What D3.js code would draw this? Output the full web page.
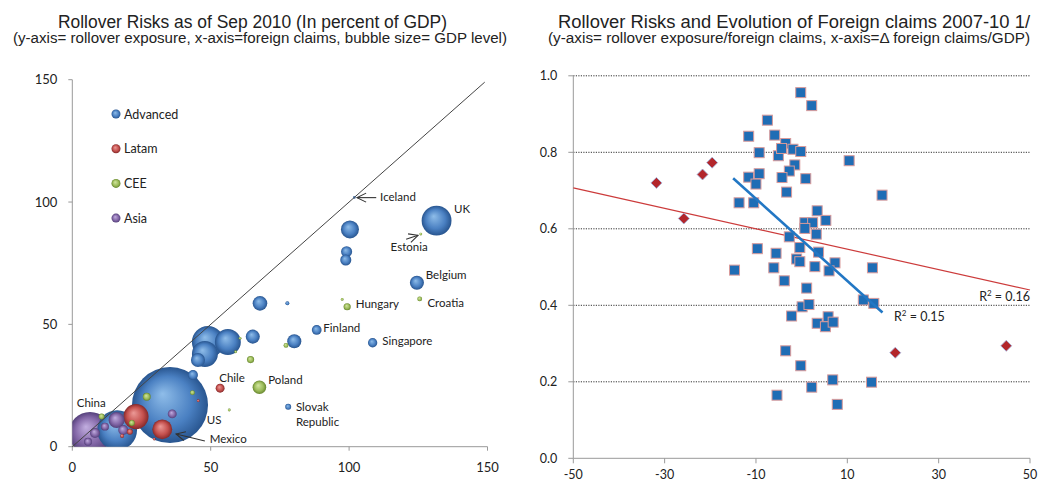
<!DOCTYPE html>
<html>
<head>
<meta charset="utf-8">
<script src="https://cdn.jsdelivr.net/npm/d3@7"></script>
<style>
  body { margin: 0; background: #fff; }
  text { font-family: Lato, "Open Sans", sans-serif; fill: #222; }
  .title { font-family: "Liberation Sans", Arial, sans-serif; }
</style>
</head>
<body>
<div id="chart"></div>
<script>
// ---- left chart data: [x = foreign claims, y = rollover exposure, gdp (tn USD)]
const advanced = [
  [35.3, 17.0, 14.6], [131.6, 92.4, 2.25], [100.3, 88.8, 0.82], [99.1, 79.7, 0.31],
  [98.8, 76.3, 0.31], [101.9, 101.9, 0.012], [124.5, 67.0, 0.5], [67.8, 58.6, 0.54],
  [77.7, 58.6, 0.04], [88.3, 47.7, 0.24], [108.5, 42.5, 0.22], [80.2, 43.1, 0.5],
  [65.2, 45.0, 0.5], [78.0, 16.3, 0.09], [49.0, 42.8, 2.6], [56.2, 42.8, 1.7],
  [47.9, 37.9, 1.7], [45.4, 35.4, 0.5], [16.2, 6.8, 4.0], [43.6, 29.3, 0.25]
];
const latam = [
  [53.4, 23.9, 0.2], [32.5, 7.1, 1.0], [23.0, 12.3, 1.6], [45.5, 18.8, 0.02],
  [20.8, 6.1, 0.09], [18.0, 4.4, 0.04], [29.6, 3.1, 0.02]
];
const cee = [
  [125.9, 86.9, 0.02], [125.5, 60.4, 0.06], [99.3, 57.2, 0.13], [97.5, 60.2, 0.02],
  [67.6, 24.3, 0.47], [77.2, 41.4, 0.06], [64.4, 35.6, 0.13], [56.7, 15.0, 0.02],
  [26.9, 20.4, 0.16], [43.4, 22.1, 0.06], [60.6, 44.3, 0.02], [59.0, 38.8, 0.02],
  [10.6, 12.3, 0.09], [21.5, 9.7, 0.09]
];
const asia = [
  [6.4, 5.6, 4.5], [16.0, 10.9, 0.65], [11.8, 8.2, 0.16], [8.2, 5.6, 0.25],
  [5.7, 2.0, 0.16], [18.4, 6.8, 0.25], [36.1, 13.4, 0.2]
];
const groups = ["Advanced", "Latam", "CEE", "Asia"];
const countryLabels = [
  ["UK", 137.9, 97.0], ["Iceland", 111.2, 102.2], ["Estonia", 115.0, 81.7],
  ["Belgium", 127.7, 70.0], ["Croatia", 128.3, 58.8], ["Hungary", 102.4, 58.3],
  ["Finland", 90.7, 48.4], ["Singapore", 112.0, 43.3], ["Chile", 53.1, 28.0],
  ["Poland", 70.8, 27.3], ["Slovak", 80.8, 16.3], ["Republic", 80.8, 10.0],
  ["US", 48.6, 10.9], ["Mexico", 49.7, 3.0], ["China", 1.6, 18.0]
];
// arrows: [x1, y1, x2, y2] pointing at the second point
const labelArrows = [[109.8, 101.8, 102.9, 101.8], [120.6, 84.8, 124.9, 86.4], [47.9, 2.3, 37.5, 5.2]];
const leftTicks = [0, 50, 100, 150];

// ---- right chart data: [x = change in foreign claims/GDP, y = rollover/foreign claims]
const squares = [
  [-0.2, 0.956], [2.2, 0.922], [-7.5, 0.884], [-11.6, 0.842], [-5.9, 0.845], [-3.5, 0.823],
  [-1.9, 0.808], [-0.2, 0.802], [-9.3, 0.799], [-5.1, 0.791], [-4.4, 0.81], [-1.5, 0.767],
  [-2.7, 0.751], [-11.6, 0.735], [-9.3, 0.744], [-10.0, 0.717], [-4.3, 0.734], [0.9, 0.731],
  [10.4, 0.778], [-3.3, 0.696], [17.6, 0.688], [-13.7, 0.668], [-10.5, 0.668], [3.4, 0.647],
  [5.3, 0.622], [0.7, 0.616], [2.4, 0.616], [0.7, 0.601], [3.2, 0.586], [-2.7, 0.579],
  [-9.7, 0.548], [-5.6, 0.536], [-0.4, 0.551], [3.7, 0.539], [-1.1, 0.521], [-0.4, 0.514],
  [7.3, 0.511], [-14.7, 0.492], [-6.1, 0.498], [2.9, 0.501], [6.0, 0.49], [15.5, 0.498],
  [-3.8, 0.464], [1.1, 0.445], [13.5, 0.414], [15.8, 0.405], [0.1, 0.396], [1.6, 0.402],
  [-2.2, 0.372], [5.8, 0.370], [3.4, 0.353], [5.2, 0.344], [6.9, 0.356], [-3.5, 0.281],
  [-0.2, 0.242], [6.8, 0.205], [15.3, 0.199], [2.2, 0.186], [-5.4, 0.165], [7.8, 0.141]
];
const diamonds = [[-31.8, 0.72], [-25.8, 0.627], [-21.7, 0.742], [-19.6, 0.773], [20.5, 0.276], [44.8, 0.294]];
const redTrend = [[-50, 0.707], [50, 0.44]];
const blueTrend = [[-15, 0.732], [17.7, 0.381]];
const rightXTicks = [-50, -30, -10, 10, 30, 50];
const rightYTicks = [0, 0.2, 0.4, 0.6, 0.8, 1.0];

const W = 1039, H = 483;
const svg = d3.select("#chart").append("svg").attr("width", W).attr("height", H);
svg.append("rect").attr("width", W).attr("height", H).attr("fill", "#fff");
const defs = svg.append("defs");

// bubble gradients
const shades = {
  Advanced: ["#8fbde9", "#4a80c2", "#28558f"],
  Latam: ["#ec9a97", "#c4504d", "#85292a"],
  CEE: ["#d3e6a0", "#9bbb59", "#66852e"],
  Asia: ["#c2aee0", "#8266a6", "#54407a"]
};
groups.forEach(g => {
  const rg = defs.append("radialGradient").attr("id", "grad" + g)
    .attr("cx", "50%").attr("cy", "50%").attr("r", "50%").attr("fx", "40%").attr("fy", "35%");
  rg.append("stop").attr("offset", "0%").style("stop-color", shades[g][0]);
  rg.append("stop").attr("offset", "65%").style("stop-color", shades[g][1]);
  rg.append("stop").attr("offset", "100%").style("stop-color", shades[g][2]);
});
defs.append("marker").attr("id", "arrow").attr("viewBox", "-11 -6 12 12")
  .attr("refX", 0).attr("refY", 0).attr("markerWidth", 12).attr("markerHeight", 12)
  .attr("markerUnits", "userSpaceOnUse").attr("orient", "auto")
  .append("path").attr("d", "M-9,-4.5 L0,0 L-9,4.5").attr("fill", "none").attr("stroke", "#333").attr("stroke-width", 1.1);

function title(x, y, size, len, txt) {
  svg.append("text").attr("class", "title").attr("x", x).attr("y", y)
    .attr("text-anchor", "middle").style("font-size", size + "px")
    .attr("textLength", len).attr("lengthAdjust", "spacingAndGlyphs").text(txt);
}

// ---------- LEFT CHART ----------
const xL = d3.scaleLinear().domain([0, 150]).range([72.3, 487.5]);
const yL = d3.scaleLinear().domain([0, 150]).range([446.7, 79.7]);
const rL = d3.scaleSqrt().domain([0, 14.6]).range([0, 38]);

title(252.5, 28, 17.5, 389, "Rollover Risks as of Sep 2010 (In percent of GDP)");
title(260, 43, 14, 494, "(y-axis= rollover exposure, x-axis=foreign claims, bubble size= GDP level)");

defs.append("clipPath").attr("id", "clipL").append("rect")
  .attr("x", xL(0)).attr("y", yL(150)).attr("width", xL(150) - xL(0)).attr("height", yL(0) - yL(150));

const gL = svg.append("g");
// axes
gL.append("line").attr("x1", xL(0)).attr("x2", xL(0)).attr("y1", yL(0)).attr("y2", yL(150)).attr("stroke", "#999");
gL.append("line").attr("x1", xL(0)).attr("x2", xL(150)).attr("y1", yL(0)).attr("y2", yL(0)).attr("stroke", "#999");
leftTicks.forEach(t => {
  gL.append("line").attr("x1", xL(0) - 4).attr("x2", xL(0)).attr("y1", yL(t)).attr("y2", yL(t)).attr("stroke", "#999");
  gL.append("line").attr("x1", xL(t)).attr("x2", xL(t)).attr("y1", yL(0)).attr("y2", yL(0) + 4).attr("stroke", "#999");
  gL.append("text").attr("x", xL(0) - 15).attr("y", yL(t) + 4.5).attr("text-anchor", "end")
    .style("font-size", "13px").text(t);
  gL.append("text").attr("x", xL(t)).attr("y", yL(0) + 25).attr("text-anchor", "middle")
    .style("font-size", "13px").text(t);
});

// bubbles, biggest first so small ones stay visible
const bubbles = [];
[advanced, latam, cee, asia].forEach((arr, i) => arr.forEach(d => bubbles.push({ g: groups[i], x: d[0], y: d[1], s: d[2] })));
bubbles.sort((a, b) => b.s - a.s);
gL.append("g").attr("clip-path", "url(#clipL)").selectAll("circle").data(bubbles).join("circle")
  .attr("cx", d => xL(d.x)).attr("cy", d => yL(d.y)).attr("r", d => Math.max(1.3, rL(d.s)))
  .attr("fill", d => "url(#grad" + d.g + ")");

// 45 degree line
gL.append("line").attr("x1", xL(0)).attr("y1", yL(0)).attr("x2", xL(149)).attr("y2", yL(149))
  .attr("stroke", "#444").attr("stroke-width", 1);

// legend
groups.forEach((g, i) => {
  const ly = 114 + i * 34.7;
  gL.append("circle").attr("cx", 116).attr("cy", ly).attr("r", 4.5).attr("fill", "url(#grad" + g + ")");
  gL.append("text").attr("x", 124).attr("y", ly + 4.5).style("font-size", "12.5px").text(g);
});

// country labels and arrows
gL.selectAll(".clab").data(countryLabels).join("text").attr("class", "clab")
  .attr("x", d => xL(d[1])).attr("y", d => yL(d[2]) + 4).style("font-size", "11.5px").text(d => d[0]);
gL.selectAll(".arr").data(labelArrows).join("line").attr("class", "arr")
  .attr("x1", d => xL(d[0])).attr("y1", d => yL(d[1])).attr("x2", d => xL(d[2])).attr("y2", d => yL(d[3]))
  .attr("stroke", "#333").attr("stroke-width", 1.1).attr("marker-end", "url(#arrow)");

// ---------- RIGHT CHART ----------
const xR = d3.scaleLinear().domain([-50, 50]).range([573.3, 1030]);
const yR = d3.scaleLinear().domain([0, 1]).range([458.3, 75.8]);

title(794, 28, 17.5, 472, "Rollover Risks and Evolution of Foreign claims 2007-10 1/");
title(789, 43, 14, 482, "(y-axis= rollover exposure/foreign claims, x-axis=\u0394 foreign claims/GDP)");

const gR = svg.append("g");
rightYTicks.forEach(t => {
  if (t > 0) {
    gR.append("line").attr("x1", xR(-50)).attr("x2", xR(50)).attr("y1", yR(t)).attr("y2", yR(t))
      .attr("stroke", "#333").attr("stroke-dasharray", "1.2,1.3").attr("stroke-width", 1);
  }
  gR.append("line").attr("x1", xR(-50) - 5).attr("x2", xR(-50)).attr("y1", yR(t)).attr("y2", yR(t)).attr("stroke", "#999");
  gR.append("text").attr("x", xR(-50) - 16).attr("y", yR(t) + 4.5).attr("text-anchor", "end")
    .style("font-size", "12.5px").text(d3.format(".1f")(t));
});
gR.append("line").attr("x1", xR(-50)).attr("x2", xR(-50)).attr("y1", yR(0)).attr("y2", yR(1)).attr("stroke", "#999");
gR.append("line").attr("x1", xR(-50)).attr("x2", xR(50)).attr("y1", yR(0)).attr("y2", yR(0)).attr("stroke", "#999");
rightXTicks.forEach(t => {
  gR.append("line").attr("x1", xR(t)).attr("x2", xR(t)).attr("y1", yR(0)).attr("y2", yR(0) + 5).attr("stroke", "#999");
  gR.append("text").attr("x", xR(t)).attr("y", yR(0) + 21).attr("text-anchor", "middle")
    .style("font-size", "12.5px").text(t);
});

// red trend line (behind the markers)
gR.append("line").attr("x1", xR(redTrend[0][0])).attr("y1", yR(redTrend[0][1]))
  .attr("x2", xR(redTrend[1][0])).attr("y2", yR(redTrend[1][1])).attr("stroke", "#cc3b3b").attr("stroke-width", 1.2);

// squares
const sq = 10;
gR.selectAll(".sq").data(squares).join("rect").attr("class", "sq")
  .attr("x", d => xR(d[0]) - sq / 2).attr("y", d => yR(d[1]) - sq / 2).attr("width", sq).attr("height", sq)
  .attr("fill", "#1f6db5").attr("stroke", "#d99a9a").attr("stroke-width", 1);
// diamonds
gR.selectAll(".dm").data(diamonds).join("path").attr("class", "dm")
  .attr("d", d => { const x = xR(d[0]), y = yR(d[1]), s = 5.5; return `M${x},${y - s}L${x + s},${y}L${x},${y + s}L${x - s},${y}Z`; })
  .attr("fill", "#b3262b").attr("stroke", "#9fb4de").attr("stroke-width", 0.8);

// blue trend line
gR.append("line").attr("x1", xR(blueTrend[0][0])).attr("y1", yR(blueTrend[0][1]))
  .attr("x2", xR(blueTrend[1][0])).attr("y2", yR(blueTrend[1][1])).attr("stroke", "#2277c4").attr("stroke-width", 2.6);

// R2 labels
const r2a = gR.append("text").attr("x", 1030).attr("y", 301).attr("text-anchor", "end").style("font-size", "12.5px");
r2a.append("tspan").text("R");
r2a.append("tspan").attr("dy", -5).style("font-size", "8px").text("2");
r2a.append("tspan").attr("dy", 5).text(" = 0.16");
const r2b = gR.append("text").attr("x", 894).attr("y", 321).style("font-size", "12.5px");
r2b.append("tspan").text("R");
r2b.append("tspan").attr("dy", -5).style("font-size", "8px").text("2");
r2b.append("tspan").attr("dy", 5).text(" = 0.15");
</script>
</body>
</html>
